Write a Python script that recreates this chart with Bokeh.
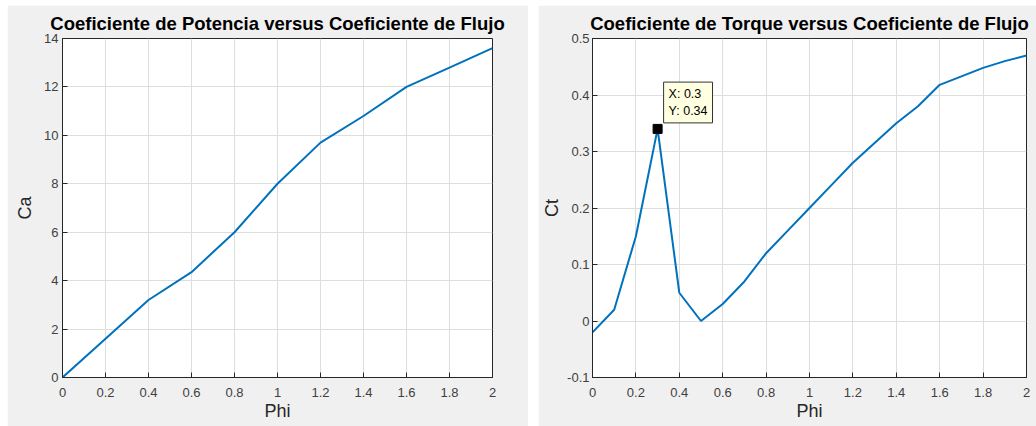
from bokeh.plotting import figure
from bokeh.layouts import row
from bokeh.models import Range1d, FixedTicker, Label
from bokeh.embed import file_html
from bokeh.resources import INLINE

# ---- data ----
phi_a = [0.0, 0.2, 0.4, 0.6, 0.8, 1.0, 1.2, 1.4, 1.6, 1.8, 2.0]
ca = [0.0, 1.6, 3.2, 4.35, 6.0, 8.0, 9.7, 10.8, 12.0, 12.8, 13.6]

phi_t = [0.0, 0.1, 0.2, 0.3, 0.4, 0.5, 0.6, 0.7, 0.8, 0.9, 1.0,
         1.1, 1.2, 1.3, 1.4, 1.5, 1.6, 1.7, 1.8, 1.9, 2.0]
ct = [-0.02, 0.02, 0.15, 0.34, 0.05, 0.0, 0.03, 0.07, 0.12, 0.16, 0.2,
      0.24, 0.28, 0.315, 0.35, 0.38, 0.418, 0.433, 0.448, 0.46, 0.47]

tip_x = 0.3
tip_y = 0.34

x_ticks = [0, 0.2, 0.4, 0.6, 0.8, 1.0, 1.2, 1.4, 1.6, 1.8, 2.0]
x_tick_labels = ["0", "0.2", "0.4", "0.6", "0.8", "1", "1.2", "1.4", "1.6", "1.8", "2"]
ya_ticks = [0, 2, 4, 6, 8, 10, 12, 14]
yt_ticks = [-0.1, 0, 0.1, 0.2, 0.3, 0.4, 0.5]
yt_tick_labels = ["-0.1", "0", "0.1", "0.2", "0.3", "0.4", "0.5"]

titles = ["Coeficiente de Potencia versus Coeficiente de Flujo",
          "Coeficiente de Torque versus Coeficiente de Flujo"]

FONT = "Liberation Sans"
LINE = "#0072BD"
AX = "#262626"
BG = "#f0f0f0"


def style(p, xlabel, ylabel):
    p.background_fill_color = "white"
    p.border_fill_color = BG
    p.outline_line_color = AX
    p.outline_line_width = 1
    p.title.text_font = FONT
    p.title.text_font_size = "18.5px"
    p.title.text_font_style = "bold"
    p.title.text_color = "black"
    p.title.align = "center"
    p.title.offset = 0
    for ax in (p.xaxis[0], p.yaxis[0]):
        ax.axis_line_color = AX
        ax.major_tick_line_color = AX
        ax.major_tick_in = 5
        ax.major_tick_out = 0
        ax.minor_tick_line_color = None
        ax.major_label_text_font = FONT
        ax.major_label_text_font_size = "13px"
        ax.major_label_text_color = "#404040"
        ax.axis_label_text_font = FONT
        ax.axis_label_text_font_size = "18px"
        ax.axis_label_text_font_style = "normal"
        ax.axis_label_text_color = AX
    p.xaxis.axis_label = xlabel
    p.yaxis.axis_label = ylabel
    p.xaxis.major_label_standoff = 10
    p.xaxis.axis_label_standoff = 1
    p.yaxis.major_label_standoff = 3
    p.yaxis.axis_label_standoff = 2
    p.grid.grid_line_color = "#dedede"
    p.grid.grid_line_width = 1
    p.xaxis.ticker = FixedTicker(ticks=x_ticks)
    p.xaxis.major_label_overrides = {t: l for t, l in zip(x_ticks, x_tick_labels)}
    p.xgrid.ticker = FixedTicker(ticks=x_ticks)


p1 = figure(width=521, height=421, output_backend="svg", toolbar_location=None,
            title=titles[0], x_range=Range1d(0, 2), y_range=Range1d(0, 14),
            min_border_left=55, min_border_right=36, min_border_top=33,
            min_border_bottom=47, margin=(5, 0, 0, 7))
style(p1, "Phi", "Ca")
p1.yaxis.axis_label_standoff = 6
p1.yaxis.major_label_standoff = 4
p1.yaxis.ticker = FixedTicker(ticks=ya_ticks)
p1.ygrid.ticker = FixedTicker(ticks=ya_ticks)
p1.line(phi_a, ca, line_color=LINE, line_width=2)

p2 = figure(width=498, height=421, output_backend="svg", toolbar_location=None,
            title=titles[1], x_range=Range1d(0, 2), y_range=Range1d(-0.1, 0.5),
            min_border_left=54, min_border_right=10, min_border_top=32,
            min_border_bottom=49, margin=(5, 0, 0, 0))
style(p2, "Phi", "Ct")
p2.yaxis.ticker = FixedTicker(ticks=yt_ticks)
p2.ygrid.ticker = FixedTicker(ticks=yt_ticks)
p2.yaxis.major_label_overrides = {t: l for t, l in zip(yt_ticks, yt_tick_labels)}
p2.line(phi_t, ct, line_color=LINE, line_width=2)
p2.scatter([tip_x], [tip_y], marker="square", size=9, fill_color="black",
           line_color="black")
tip = Label(x=tip_x, y=tip_y, x_offset=6, y_offset=6,
            text="X: %g\nY: %g" % (tip_x, tip_y),
            text_font=FONT, text_font_size="12.5px", text_color="black",
            text_align="left", text_baseline="bottom",
            background_fill_color="#ffffe1", border_line_color="#333333",
            border_line_width=1, padding=5)
p2.add_layout(tip)

layout = row(p1, p2, spacing=10)
open("out.html", "w").write(file_html(layout, INLINE))
